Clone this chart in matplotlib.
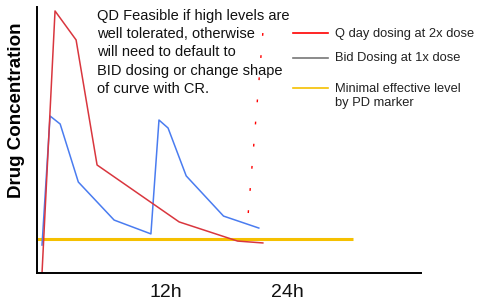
import matplotlib.pyplot as plt
from matplotlib.lines import Line2D

# Plot settings
plt.rcParams['font.family'] = ['Liberation Sans', 'DejaVu Sans']

# Data (hours, concentration in arbitrary units 0-100)
qd_hours = [-0.3, 0.99, 3.08, 5.16, 13.3, 19.1, 21.6]
qd_conc = [0.0, 98.5, 87.6, 40.6, 19.2, 12.0, 11.3]

bid_hours = [-0.3, 0.5, 1.5, 3.3, 6.85, 10.5, 11.3, 12.2, 14.0, 17.7, 21.2]
bid_conc = [10.5, 59.0, 56.0, 34.2, 19.9, 14.7, 57.5, 54.5, 36.5, 21.4, 16.9]

mel_hours = [-0.8, 30.5]
mel_conc = [12.8, 12.8]

# faint dashed red marker drawn on the original slide
mark_hours = [21.6, 20.0]
mark_conc = [90.2, 15.4]

tick_pos = [12, 24]
tick_labels = ['12h', '24h']

note = ('QD Feasible if high levels are\nwell tolerated, otherwise\n'
        'will need to default to\nBID dosing or change shape\nof curve with CR.')

legend_colors = ['red', '#777777', '#f5c000']
legend_labels = ['Q day dosing at 2x dose', 'Bid Dosing at 1x dose',
                 'Minimal effective level\nby PD marker']

RED = '#d9363e'
BLUE = '#4a7cf0'
YELLOW = '#f5c000'

fig = plt.figure(figsize=(4.79, 3.03), dpi=100)
ax = fig.add_axes([0.0772, 0.099, 0.802, 0.878])

ax.plot(mark_hours, mark_conc, color='red', lw=1, linestyle=(0, (2, 14)))
ax.plot(mel_hours, mel_conc, color=YELLOW, lw=2.2, solid_capstyle='butt')
ax.plot(bid_hours, bid_conc, color=BLUE, lw=1.1)
ax.plot(qd_hours, qd_conc, color=RED, lw=1.1)

ax.set_xlim(-0.8, 37.3)
ax.set_ylim(0, 100)
ax.spines['right'].set_visible(False)
ax.spines['top'].set_visible(False)
ax.spines['left'].set_linewidth(1.4)
ax.spines['bottom'].set_linewidth(1.4)
ax.set_xticks(tick_pos)
ax.set_xticklabels(tick_labels, fontsize=14, color='#111111')
ax.tick_params(axis='x', length=0, pad=8)
ax.set_yticks([])
ax.set_ylabel('Drug Concentration', fontsize=13.5, fontweight='bold')
ax.yaxis.set_label_coords(-0.03, 0.61)

ax.text(0.155, 0.993, note, transform=ax.transAxes, fontsize=10.5,
        va='top', ha='left', linespacing=1.39, color='#111111')

# legend drawn by hand (figure pixels from the top-left)
W, H = 479, 303
rows_y = [33, 58, 88]
for color, label, y in zip(legend_colors, legend_labels, rows_y):
    fig.add_artist(Line2D([293 / W, 328 / W], [1 - y / H, 1 - y / H],
                          color=color, lw=1.2, transform=fig.transFigure))
    fig.text(335 / W, 1 - (y - 5.5) / H, label, fontsize=9.3, va='top',
             ha='left', linespacing=1.3, color='#222222')

fig.savefig('out.png', dpi=100)
